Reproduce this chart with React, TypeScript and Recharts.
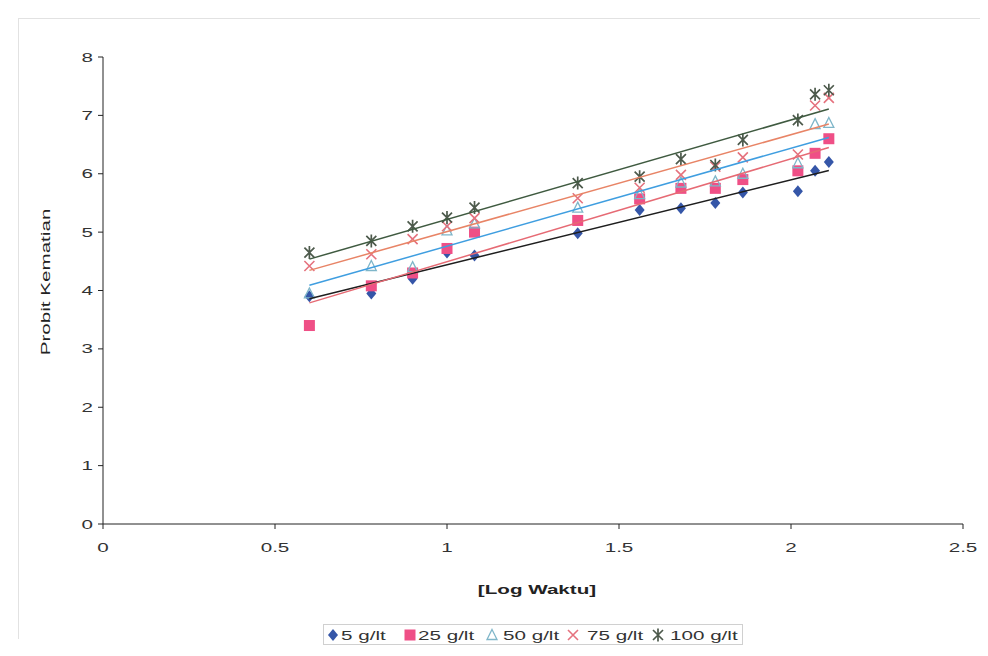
import { ScatterChart, Scatter, XAxis, YAxis, Legend, Label } from "recharts"

// log of exposure time (x) and probit mortality per concentration
const logWaktu = [0.6, 0.78, 0.9, 1.0, 1.08, 1.38, 1.56, 1.68, 1.78, 1.86, 2.02, 2.07, 2.11]
const probit5 = [3.9, 3.95, 4.2, 4.65, 4.6, 4.98, 5.38, 5.41, 5.5, 5.68, 5.7, 6.05, 6.2]
const probit25 = [3.4, 4.08, 4.3, 4.72, 5.0, 5.2, 5.57, 5.75, 5.75, 5.9, 6.05, 6.35, 6.6]
const probit50 = [3.95, 4.42, 4.4, 5.03, 5.15, 5.42, 5.65, 5.85, 5.87, 6.0, 6.18, 6.85, 6.87]
const probit75 = [4.42, 4.62, 4.88, 5.1, 5.24, 5.58, 5.76, 5.98, 6.12, 6.28, 6.33, 7.17, 7.3]
const probit100 = [4.65, 4.85, 5.1, 5.25, 5.42, 5.84, 5.95, 6.25, 6.15, 6.58, 6.92, 7.36, 7.43]
const seriesNames = ["5 g/lt", "25 g/lt", "50 g/lt", "75 g/lt", "100 g/lt"]
const xTicks = [0, 0.5, 1, 1.5, 2, 2.5]
const yTicks = [0, 1, 2, 3, 4, 5, 6, 7, 8]

const toPoints = (ys: number[]) => logWaktu.map((x, i) => ({ x, y: ys[i] }))

// least squares trendline, drawn over the data range
function trend(ys: number[]) {
	const n = logWaktu.length
	const mx = logWaktu.reduce((a, b) => a + b, 0) / n
	const my = ys.reduce((a, b) => a + b, 0) / n
	let sxy = 0
	let sxx = 0
	logWaktu.forEach((x, i) => {
		sxy += (x - mx) * (ys[i] - my)
		sxx += (x - mx) * (x - mx)
	})
	const b = sxy / sxx
	const a = my - b * mx
	const x0 = Math.min(...logWaktu)
	const x1 = Math.max(...logWaktu)
	return [
		{ x: x0, y: a + b * x0 },
		{ x: x1, y: a + b * x1 },
	]
}

const markerColors = ["#3556a8", "#ef4f86", "#7fb6c9", "#e5727e", "#4d5a4c"]
const lineColors = ["#1e1e1e", "#e66a74", "#3f9ee0", "#e88466", "#3f5a40"]
const FONT = "'Liberation Sans', Arial, sans-serif"
const STRETCH = 1.65 // the scanned text is much wider than Arial

function Diamond({ cx, cy, color }: any) {
	return <path d={`M${cx},${cy - 6}L${cx + 5},${cy}L${cx},${cy + 6}L${cx - 5},${cy}Z`} fill={color} />
}
function Square({ cx, cy, color }: any) {
	return <rect x={cx - 5.5} y={cy - 5.5} width={11} height={11} fill={color} />
}
function Triangle({ cx, cy, color }: any) {
	return <path d={`M${cx},${cy - 5.5}L${cx + 5},${cy + 4.5}L${cx - 5},${cy + 4.5}Z`} fill="none" stroke={color} strokeWidth={1.3} />
}
function Cross({ cx, cy, color }: any) {
	return <path d={`M${cx - 5},${cy - 5}L${cx + 5},${cy + 5}M${cx + 5},${cy - 5}L${cx - 5},${cy + 5}`} stroke={color} strokeWidth={1.6} />
}
function Star({ cx, cy, color }: any) {
	return (
		<path
			d={`M${cx - 5},${cy - 5}L${cx + 5},${cy + 5}M${cx + 5},${cy - 5}L${cx - 5},${cy + 5}M${cx},${cy - 6.5}L${cx},${cy + 6.5}`}
			stroke={color}
			strokeWidth={1.7}
		/>
	)
}

const shapes = [Diamond, Square, Triangle, Cross, Star]
const allSeries = [probit5, probit25, probit50, probit75, probit100]

// legend item offsets inside the box (icon x, text x)
const legendIconX = [10, 87, 169, 250, 335]
const legendTextX = [18, 95, 180, 264, 347]

function LegendBox() {
	return (
		<svg width={420} height={21} style={{ display: "block" }}>
			<rect x={0.5} y={0.5} width={419} height={20} fill="#fff" stroke="#d0d0d0" />
			{seriesNames.map((name, i) => {
				const Shape = shapes[i]
				return (
					<g key={name}>
						<Shape cx={legendIconX[i]} cy={11} color={markerColors[i]} />
						<text transform={`translate(${legendTextX[i]},15.5) scale(${STRETCH},1)`} fontFamily={FONT} fontSize={12.5} fill="#333">
							{name}
						</text>
					</g>
				)
			})}
		</svg>
	)
}

function XTick({ x, y, payload }: any) {
	return (
		<text transform={`translate(${x},${y + 17}) scale(${STRETCH},1)`} textAnchor="middle" fontFamily={FONT} fontSize={12.5} fill="#333">
			{payload.value}
		</text>
	)
}
function YTick({ x, y, payload }: any) {
	return (
		<text transform={`translate(${x},${y + 4.5}) scale(${STRETCH},1)`} textAnchor="end" fontFamily={FONT} fontSize={12.5} fill="#333">
			{payload.value}
		</text>
	)
}

export default function App() {
	return (
		<div style={{ position: "relative", width: 980, height: 640 }}>
			<div style={{ position: "absolute", left: 10, top: 10, width: 970, height: 620, borderTop: "1px solid #e2e2e2", borderLeft: "1px solid #e2e2e2" }} />
			<ScatterChart width={980} height={640} margin={{ top: 49, right: 25, bottom: 73, left: 47 }}>
				<XAxis
					type="number"
					dataKey="x"
					domain={[0, 2.5]}
					ticks={xTicks}
					allowDataOverflow
					tick={<XTick />}
					tickSize={5}
					tickMargin={6}
					stroke="#222"
					height={30}
				>
					<Label
						content={() => (
							<text transform={`translate(529,586) scale(${STRETCH},1)`} textAnchor="middle" fontFamily={FONT} fontSize={12.5} fontWeight="bold" fill="#222">
								[Log Waktu]
							</text>
						)}
					/>
				</XAxis>
				<YAxis
					type="number"
					dataKey="y"
					domain={[0, 8]}
					ticks={yTicks}
					tick={<YTick />}
					tickSize={5}
					tickMargin={5}
					stroke="#222"
					width={48}
				>
					<Label
						content={() => (
							<text
								transform={`translate(42,274) rotate(-90) scale(${STRETCH},1)`}
								textAnchor="middle"
								fontFamily={FONT}
								fontSize={12.5}
								fill="#222"
							>
								Probit Kematian
							</text>
						)}
					/>
				</YAxis>
				{allSeries.map((ys, i) => {
					const Shape = shapes[i]
					return (
						<Scatter
							key={seriesNames[i]}
							name={seriesNames[i]}
							data={toPoints(ys)}
							shape={(p: any) => <Shape cx={p.cx} cy={p.cy} color={markerColors[i]} />}
							isAnimationActive={false}
						/>
					)
				})}
				{allSeries.map((ys, i) => (
					<Scatter
						key={"trend" + i}
						data={trend(ys)}
						line={{ stroke: lineColors[i], strokeWidth: 1.5 }}
						shape={() => <g />}
						legendType="none"
						isAnimationActive={false}
					/>
				))}
				<Legend content={() => <LegendBox />} wrapperStyle={{ left: 315, top: 616, width: "auto", bottom: "auto" }} />
			</ScatterChart>
		</div>
	)
}
